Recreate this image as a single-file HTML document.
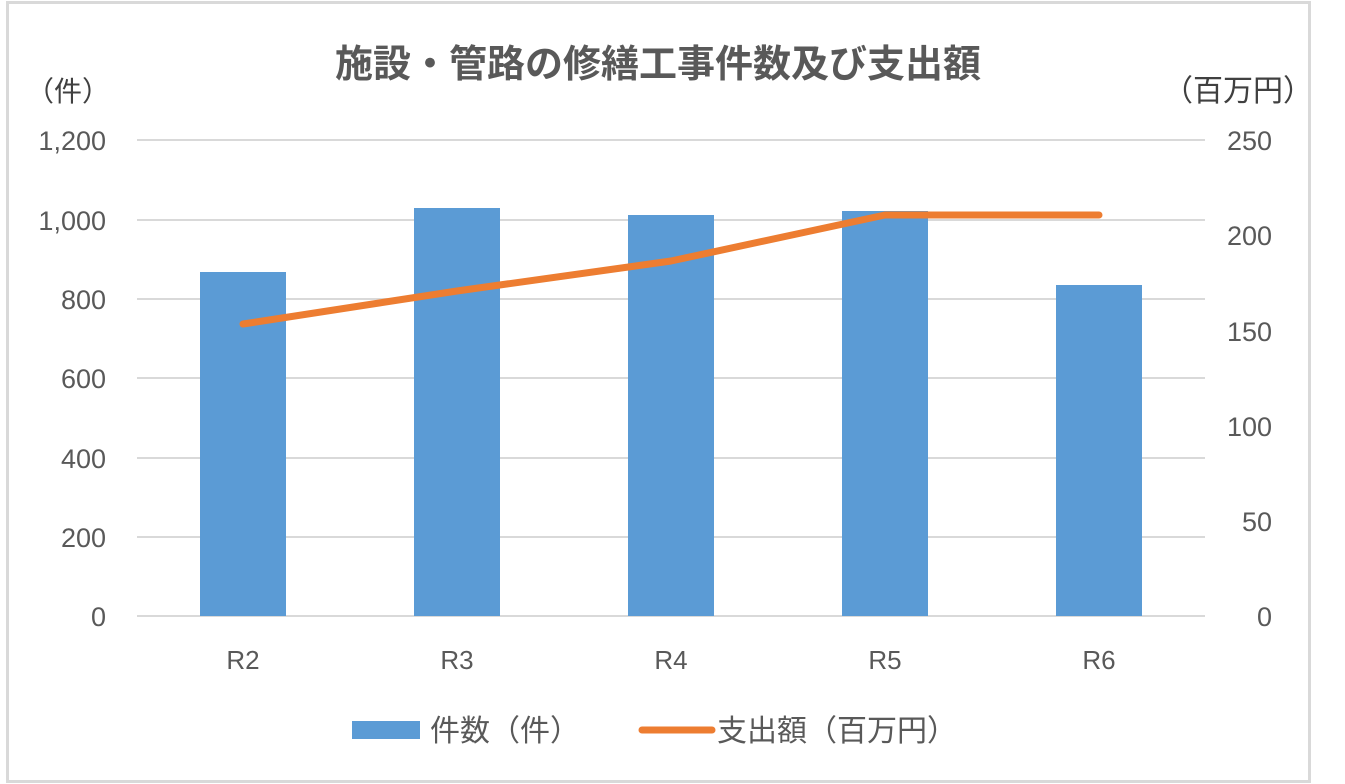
<!DOCTYPE html>
<html><head><meta charset="utf-8"><style>
body{margin:0;background:#fff;}
svg{display:block;font-family:"Liberation Sans","Noto Sans CJK JP",sans-serif;}
</style></head><body>
<svg width="1345" height="784" viewBox="0 0 1345 784" xmlns="http://www.w3.org/2000/svg">
<rect x="0" y="0" width="1345" height="784" fill="#fff"/>
<rect x="7.5" y="2.5" width="1302" height="779" fill="#fff" stroke="#d9d9d9" stroke-width="3"/>
<text x="658" y="77" font-size="38" font-weight="bold" fill="#595959" text-anchor="middle">施設・管路の修繕工事件数及び支出額</text>
<text x="26" y="101" font-size="28" fill="#404040">（件）</text>
<text x="1163" y="101" font-size="30" fill="#404040">（百万円）</text>
<g stroke="#d9d9d9" stroke-width="2">
<line x1="137" x2="1205" y1="140" y2="140"/>
<line x1="137" x2="1205" y1="220" y2="220"/>
<line x1="137" x2="1205" y1="299" y2="299"/>
<line x1="137" x2="1205" y1="378" y2="378"/>
<line x1="137" x2="1205" y1="458" y2="458"/>
<line x1="137" x2="1205" y1="537" y2="537"/>
<line x1="137" x2="1205" y1="616" y2="616"/>
</g>
<g font-size="27" fill="#595959" text-anchor="end">
<text x="106" y="150">1,200</text>
<text x="106" y="230">1,000</text>
<text x="106" y="309">800</text>
<text x="106" y="388">600</text>
<text x="106" y="468">400</text>
<text x="106" y="547">200</text>
<text x="106" y="626">0</text>
</g>
<g font-size="27" fill="#595959" text-anchor="end">
<text x="1272" y="150">250</text>
<text x="1272" y="245">200</text>
<text x="1272" y="341">150</text>
<text x="1272" y="436">100</text>
<text x="1272" y="531">50</text>
<text x="1272" y="626">0</text>
</g>
<g fill="#5b9bd5">
<rect x="200" y="272" width="86" height="344"/>
<rect x="414" y="208" width="86" height="408"/>
<rect x="628" y="215" width="86" height="401"/>
<rect x="842" y="211" width="86" height="405"/>
<rect x="1056" y="285" width="86" height="331"/>
</g>
<polyline points="243,324 457,291 671,261 885,215 1099,215" fill="none" stroke="#ed7d31" stroke-width="7" stroke-linejoin="round" stroke-linecap="round"/>
<g font-size="26" fill="#595959" text-anchor="middle">
<text x="243" y="669">R2</text>
<text x="457" y="669">R3</text>
<text x="671" y="669">R4</text>
<text x="885" y="669">R5</text>
<text x="1099" y="669">R6</text>
</g>
<rect x="352" y="721" width="68" height="18" fill="#5b9bd5"/>
<text x="430" y="741" font-size="30" fill="#595959">件数（件）</text>
<line x1="642" x2="712" y1="730" y2="730" stroke="#ed7d31" stroke-width="7" stroke-linecap="round"/>
<text x="717" y="741" font-size="30" fill="#595959">支出額（百万円）</text>
</svg>
</body></html>
